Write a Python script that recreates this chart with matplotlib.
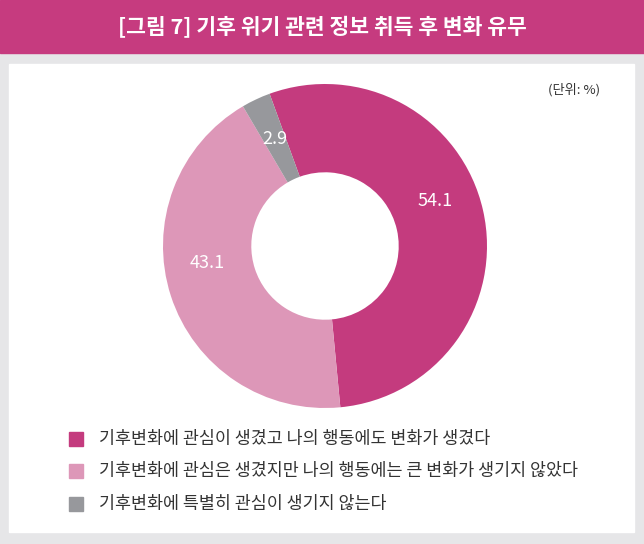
import matplotlib.pyplot as plt
from matplotlib.patches import Rectangle

plt.rcParams['font.family'] = ['Noto Sans CJK KR', 'DejaVu Sans']

# -----------------------------
# Data
# -----------------------------
title = "[그림 7] 기후 위기 관련 정보 취득 후 변화 유무"
unit_text = "(단위: %)"
categories = [
    "기후변화에 관심이 생겼고 나의 행동에도 변화가 생겼다",
    "기후변화에 관심은 생겼지만 나의 행동에는 큰 변화가 생기지 않았다",
    "기후변화에 특별히 관심이 생기지 않는다",
]
values = [54.1, 43.1, 2.9]
colors = ["#C43B7E", "#DD97B8", "#97989C"]

W, H = 644, 544
fig = plt.figure(figsize=(W / 100, H / 100), dpi=100, facecolor="#E6E6E8")

# white panel + title bar (pixel coords from top)
def box(x0, y0, x1, y1, color, z=0):
    fig.patches.append(Rectangle((x0 / W, 1 - y1 / H), (x1 - x0) / W, (y1 - y0) / H,
                                 transform=fig.transFigure, color=color, zorder=z))

box(9, 64, 634, 532, "white", z=-5)
box(0, 0, W, 53, "#C63B7F", z=-5)
fig.text(0.5, 1 - 27 / H, title, color="white", fontsize=15.5, fontweight="bold",
         ha="center", va="center")
fig.text(600 / W, 1 - 90 / H, unit_text, color="#333333", fontsize=9.5,
         ha="right", va="center")

# -----------------------------
# Donut
# -----------------------------
cx, cy, r = 325, 246, 162
ax = fig.add_axes([(cx - r) / W, 1 - (cy + r) / H, 2 * r / W, 2 * r / H])
ax.set_zorder(5)
ax.patch.set_alpha(0)
wedges, texts, autotexts = ax.pie(
    values, colors=colors, startangle=110, counterclock=False,
    radius=1, wedgeprops=dict(width=0.545, linewidth=0),
    autopct=lambda p: "", pctdistance=0.73)
# labels of the two big slices sit a bit higher in the original
nudge = [0.12, 0.12, 0.0]
for t, v, dy in zip(autotexts, values, nudge):
    t.set_text(f"{v:.1f}")
    t.set_color("white")
    t.set_fontsize(13)
    x, y = t.get_position()
    t.set_position((x - 0.03 * (dy > 0), y + dy))
ax.set_xlim(-1, 1)
ax.set_ylim(-1, 1)
ax.set_aspect("equal")
ax.axis("off")

# -----------------------------
# Legend
# -----------------------------
rows_y = [439, 471, 504]
sq = 14
for lab, col, y in zip(categories, colors, rows_y):
    box(69, y - sq / 2, 69 + sq, y + sq / 2, col)
    fig.text(99 / W, 1 - y / H, lab, color="#333333", fontsize=12.5,
             ha="left", va="center")

fig.savefig("out.png", dpi=100, facecolor=fig.get_facecolor())
